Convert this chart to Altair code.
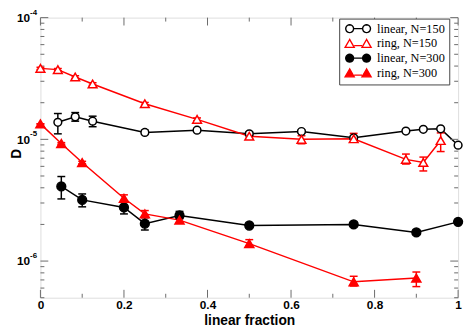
import math
import altair as alt
import pandas as pd

# ---------------- data ----------------
series_names = ["linear, N=150", "ring, N=150", "linear, N=300", "ring, N=300"]

x_lin150 = [0.0417, 0.0833, 0.125, 0.25, 0.375, 0.5, 0.625, 0.75, 0.875, 0.9167, 0.9583, 1.0]
d_lin150 = [1.38e-5, 1.53e-5, 1.41e-5, 1.14e-5, 1.19e-5, 1.11e-5, 1.16e-5, 1.03e-5, 1.17e-5, 1.21e-5, 1.22e-5, 8.95e-6]
lo_lin150 = [1.11e-5, 1.41e-5, 1.27e-5, 1.10e-5, 1.16e-5, 1.07e-5, 1.13e-5, 1.00e-5, 1.15e-5, 1.19e-5, 1.20e-5, 8.8e-6]
hi_lin150 = [1.63e-5, 1.66e-5, 1.55e-5, 1.19e-5, 1.23e-5, 1.15e-5, 1.19e-5, 1.06e-5, 1.19e-5, 1.23e-5, 1.24e-5, 9.1e-6]

x_ring150 = [0.0, 0.0417, 0.0833, 0.125, 0.25, 0.375, 0.5, 0.625, 0.75, 0.875, 0.9167, 0.9583]
d_ring150 = [3.83e-5, 3.74e-5, 3.25e-5, 2.85e-5, 1.96e-5, 1.46e-5, 1.06e-5, 1.0e-5, 1.01e-5, 6.85e-6, 6.46e-6, 9.77e-6]
lo_ring150 = [3.75e-5, 3.66e-5, 3.17e-5, 2.78e-5, 1.91e-5, 1.42e-5, 1.02e-5, 9.2e-6, 9.5e-6, 6.27e-6, 5.5e-6, 7.94e-6]
hi_ring150 = [3.91e-5, 3.82e-5, 3.33e-5, 2.92e-5, 2.01e-5, 1.50e-5, 1.10e-5, 1.07e-5, 1.12e-5, 7.57e-6, 7.15e-6, 1.13e-5]

x_lin300 = [0.05, 0.1, 0.2, 0.25, 0.333, 0.5, 0.75, 0.9, 1.0]
d_lin300 = [4.1e-6, 3.18e-6, 2.76e-6, 2.03e-6, 2.37e-6, 1.96e-6, 2.0e-6, 1.72e-6, 2.1e-6]
lo_lin300 = [3.24e-6, 2.79e-6, 2.44e-6, 1.8e-6, 2.23e-6, 1.88e-6, 1.92e-6, 1.65e-6, 2.1e-6]
hi_lin300 = [4.95e-6, 3.56e-6, 3.09e-6, 2.27e-6, 2.56e-6, 2.04e-6, 2.08e-6, 1.79e-6, 2.1e-6]

x_ring300 = [0.0, 0.05, 0.1, 0.2, 0.25, 0.333, 0.5, 0.75, 0.9]
d_ring300 = [1.34e-5, 9.25e-6, 6.45e-6, 3.28e-6, 2.44e-6, 2.17e-6, 1.39e-6, 6.75e-7, 7.25e-7]
lo_ring300 = [1.34e-5, 9.1e-6, 6.3e-6, 3.06e-6, 2.3e-6, 2.05e-6, 1.33e-6, 6.24e-7, 6.17e-7]
hi_ring300 = [1.34e-5, 9.4e-6, 6.6e-6, 3.5e-6, 2.6e-6, 2.25e-6, 1.5e-6, 7.5e-7, 8.13e-7]

# axis ticks
x_major = [0, 0.2, 0.4, 0.6, 0.8, 1.0]
x_minor = [0.1, 0.3, 0.5, 0.7, 0.9]
y_major = [1e-6, 1e-5, 1e-4]
y_exponents = ["-6", "-5", "-4"]
y_minor = [5e-7, 6e-7, 7e-7, 8e-7, 9e-7,
           2e-6, 3e-6, 4e-6, 5e-6, 6e-6, 7e-6, 8e-6, 9e-6,
           2e-5, 3e-5, 4e-5, 5e-5, 6e-5, 7e-5, 8e-5, 9e-5]

# ---------------- styles ----------------
stroke_cols = ["black", "red", "black", "red"]
fill_cols = ["white", "white", "black", "red"]
shapes = ["circle", "triangle-up", "circle", "triangle-up"]
sizes = [62, 80, 80, 85]

W, H = 425, 285
AX = "#6a6a6a"

rows = []
all_sets = [
    (x_lin150, d_lin150, lo_lin150, hi_lin150),
    (x_ring150, d_ring150, lo_ring150, hi_ring150),
    (x_lin300, d_lin300, lo_lin300, hi_lin300),
    (x_ring300, d_ring300, lo_ring300, hi_ring300),
]
for i, (xs_, ds_, los_, his_) in enumerate(all_sets):
    for xv, dv, lv, hv in zip(xs_, ds_, los_, his_):
        rows.append({"series": series_names[i], "order": i, "x": xv, "d": dv,
                     "lo": lv, "hi": hv, "col": stroke_cols[i], "fill": fill_cols[i],
                     "shape": shapes[i], "size": sizes[i]})
df = pd.DataFrame(rows)

xs = alt.Scale(domain=[0, 1], nice=False, zero=False)
ys = alt.Scale(type="log", domain=[5e-7, 1e-4], nice=False)

FONT = "Liberation Sans"

AXX = alt.Axis(
    title="linear fraction", values=x_major, format="~g", labelFlush=False,
    ticks=False, domain=False, grid=False, labelPadding=2,
    labelFont=FONT, labelFontWeight="bold", labelFontSize=12, labelColor="black",
    titleFont=FONT, titleFontWeight="bold", titleFontSize=14, titleColor="black",
    titleY=27, titleBaseline="alphabetic")
AXY = alt.Axis(
    title="D", values=y_major, labelExpr="'10'", ticks=False, domain=False,
    grid=False, labelPadding=11, labelFont=FONT, labelFontWeight="bold",
    labelFontSize=12, labelColor="black", labelOverlap=False,
    titleFont=FONT, titleFontWeight="bold", titleFontSize=14, titleColor="black",
    titleX=-24, titleY=138, titleAlign="center", titleBaseline="middle")

X = lambda f: alt.X(f, scale=xs, axis=AXX)
Y = lambda f: alt.Y(f, scale=ys, axis=AXY)

# legend symbols (marker - line - marker), unit = 4 px
def circ(cx, r=1.0, n=20):
    pts = [(cx + r * math.cos(2 * math.pi * k / n), r * math.sin(2 * math.pi * k / n)) for k in range(n)]
    return "M" + " L".join(f"{px:.3f},{py:.3f}" for px, py in pts) + " Z"

def tri(cx, r=1.15, h=1.0):
    return f"M{cx:.3f},{-h:.3f} L{cx - r:.3f},{h:.3f} L{cx + r:.3f},{h:.3f} Z"

line_seg = "M-1.15,0 L1.15,0"
circ_path = circ(-2.15) + " " + line_seg + " " + circ(2.15)
tri_path = tri(-2.15) + " " + "M-1.0,0.55 L1.0,0.55" + " " + tri(2.15)
legend_paths = [circ_path, tri_path, circ_path, tri_path]

# ---------------- layers ----------------
base = alt.Chart(df)

lines = base.mark_line(strokeWidth=1.5).encode(
    x=X("x:Q"), y=Y("d:Q"),
    stroke=alt.Stroke("col:N", scale=None),
    detail="series:N",
    order="x:Q",
)

def hticks(vals, length, top):
    d = pd.DataFrame({"v": vals})
    y0 = 0 if top else H
    y1 = length if top else H - length
    return alt.Chart(d).mark_rule(color=AX, strokeWidth=1).encode(
        x=X("v:Q"), y=alt.value(y0), y2=alt.value(y1))

def vticks(vals, length, right):
    d = pd.DataFrame({"v": vals})
    x0 = W if right else 0
    x1 = W - length if right else length
    return alt.Chart(d).mark_rule(color=AX, strokeWidth=1).encode(
        y=Y("v:Q"), x=alt.value(x0), x2=alt.value(x1))

tick_layers = [
    hticks(x_major, 8, False), hticks(x_major, 8, True),
    hticks(x_minor, 4, False), hticks(x_minor, 4, True),
    vticks(y_major, 8, False), vticks(y_major, 8, True),
    vticks(y_minor, 4, False), vticks(y_minor, 4, True),
]

err_rule = base.mark_rule(strokeWidth=1.5).encode(
    x=X("x:Q"), y=Y("lo:Q"), y2="hi:Q", stroke=alt.Stroke("col:N", scale=None))
cap_lo = base.mark_tick(orient="horizontal", size=8, thickness=1.5, opacity=1).encode(
    x=X("x:Q"), y=Y("lo:Q"), color=alt.Color("col:N", scale=None))
cap_hi = base.mark_tick(orient="horizontal", size=8, thickness=1.5, opacity=1).encode(
    x=X("x:Q"), y=Y("hi:Q"), color=alt.Color("col:N", scale=None))

points = base.mark_point(filled=True, opacity=1, strokeWidth=1.5).encode(
    x=X("x:Q"), y=Y("d:Q"),
    shape=alt.Shape("shape:N", scale=None),
    fill=alt.Fill("fill:N", scale=None),
    stroke=alt.Stroke("col:N", scale=None),
    size=alt.Size("size:Q", scale=None),
)

exp_df = pd.DataFrame({"v": y_major, "t": y_exponents})
exps = alt.Chart(exp_df).mark_text(
    align="left", baseline="middle", font=FONT, fontWeight="bold", fontSize=8,
    dx=0, dy=-5, color="black").encode(
    y=Y("v:Q"), x=alt.value(-10.5), text="t:N")

leg = alt.Legend(
    title=None, orient="none", legendX=304, legendY=1, padding=4,
    strokeColor="#444", fillColor="white", symbolSize=64, symbolStrokeWidth=1.4,
    symbolOffset=9, labelOffset=13, labelFont="Liberation Serif", labelFontSize=12.5,
    labelColor="black", rowPadding=0, columnPadding=0, cornerRadius=0, labelLimit=200)

legend_layer = base.transform_filter("false").mark_point(
    filled=True, opacity=1, strokeWidth=1.4).encode(
    x=X("x:Q"), y=Y("d:Q"),
    shape=alt.Shape("series:N", scale=alt.Scale(domain=series_names, range=legend_paths), legend=leg),
    stroke=alt.Stroke("series:N", scale=alt.Scale(domain=series_names, range=stroke_cols), legend=leg),
    fill=alt.Fill("series:N", scale=alt.Scale(domain=series_names, range=fill_cols), legend=leg),
)

chart = alt.layer(
    lines, *tick_layers, err_rule, cap_lo, cap_hi, points, exps, legend_layer
).properties(
    width=W, height=H,
    autosize=alt.AutoSizeParams(type="none"),
    padding={"left": 33, "top": 7, "right": 6, "bottom": 27},
).configure_view(stroke=AX, strokeWidth=1.2).configure(background="white")

chart.save("out.html", embed_options={"renderer": "svg", "actions": False})
